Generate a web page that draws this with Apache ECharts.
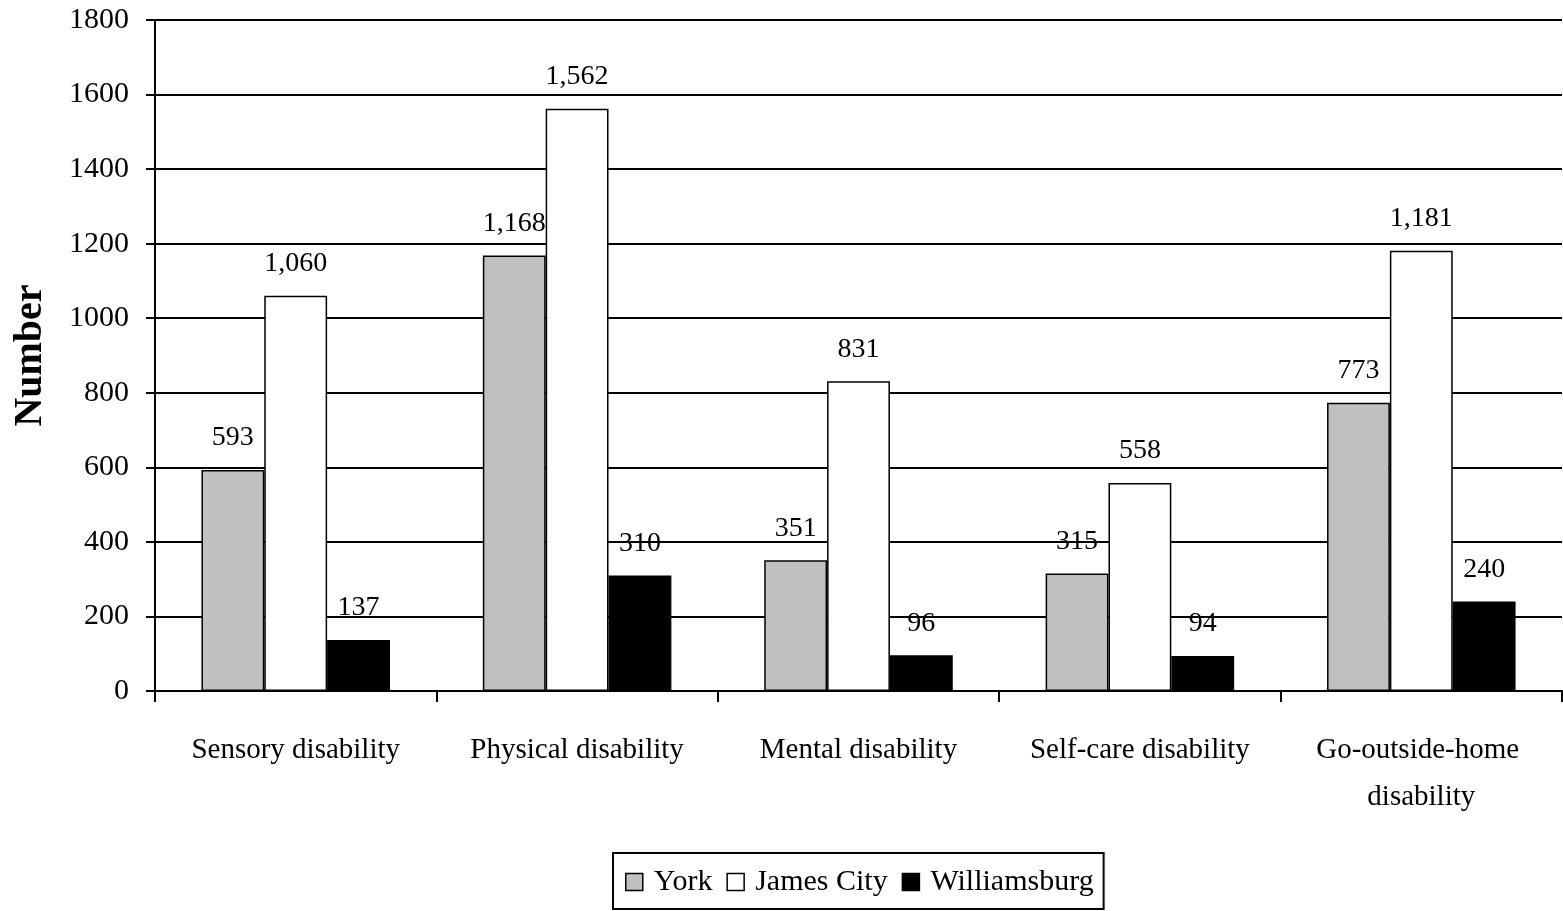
<!DOCTYPE html>
<html>
<head>
<meta charset="utf-8">
<script src="https://cdn.jsdelivr.net/npm/echarts@6/dist/echarts.min.js"></script>
<style>
  * { box-sizing: border-box; margin: 0; padding: 0; }
  html, body { width: 1563px; height: 911px; background: #fff; }
  #chart { width: 1563px; height: 911px; }
</style>
</head>
<body>
<div id="chart"></div>
<script>
  const categories = ['Sensory disability', 'Physical disability', 'Mental disability', 'Self-care disability', 'Go-outside-home disability'];
  const york = [593, 1168, 351, 315, 773];
  const jamesCity = [1060, 1562, 831, 558, 1181];
  const williamsburg = [137, 310, 96, 94, 240];
  const yTicks = [0, 200, 400, 600, 800, 1000, 1200, 1400, 1600, 1800];

  const font = '"Liberation Serif", "Times New Roman", serif';

  function bar(name, data, color) {
    return {
      name: name,
      type: 'bar',
      data: data,
      barGap: '0%',
      barCategoryGap: '33%',
      itemStyle: { color: color, borderColor: '#000', borderWidth: 1.5 },
      label: {
        show: true,
        position: 'top',
        distance: 18,
        fontFamily: font,
        fontSize: 28,
        color: '#000',
        formatter: p => p.value.toLocaleString('en-US')
      }
    };
  }

  const myChart = echarts.init(document.getElementById('chart'));
  const option = {
    animation: false,
    backgroundColor: '#fff',
    grid: { left: 155, right: 1, top: 20, bottom: 220 },
    legend: {
      bottom: 2,
      left: 613,
      data: ['York', 'James City', 'Williamsburg'],
      icon: 'rect',
      itemWidth: 17,
      itemHeight: 17,
      itemGap: 14,
      itemStyle: { borderColor: '#000', borderWidth: 1.5 },
      borderColor: '#000',
      borderWidth: 2,
      padding: [14, 10, 12, 12],
      textStyle: { fontFamily: font, fontSize: 30, color: '#000', padding: [0, 0, 0, 6] }
    },
    xAxis: {
      type: 'category',
      data: categories,
      axisLine: { lineStyle: { color: '#000', width: 2 } },
      axisTick: { show: true, length: 11, lineStyle: { color: '#000', width: 2 } },
      axisLabel: {
        fontFamily: font,
        fontSize: 29,
        color: '#000',
        margin: 36,
        lineHeight: 47,
        width: 260,
        overflow: 'break',
        interval: 0
      }
    },
    yAxis: {
      type: 'value',
      min: 0,
      max: 1800,
      interval: 200,
      name: 'Number',
      nameLocation: 'middle',
      nameGap: 104,
      nameTextStyle: { fontFamily: font, fontSize: 40, fontWeight: 'bold', color: '#000' },
      axisLine: { show: true, lineStyle: { color: '#000', width: 2 } },
      axisTick: { show: true, length: 9, lineStyle: { color: '#000', width: 2 } },
      axisLabel: {
        fontFamily: font,
        fontSize: 30,
        color: '#000',
        margin: 26,
        formatter: v => yTicks.includes(v) ? String(v) : ''
      },
      splitLine: { show: true, lineStyle: { color: '#000', width: 2 } }
    },
    series: [
      bar('York', york, '#c0c0c0'),
      bar('James City', jamesCity, '#ffffff'),
      bar('Williamsburg', williamsburg, '#000000')
    ]
  };
  myChart.setOption(option);
</script>
</body>
</html>
